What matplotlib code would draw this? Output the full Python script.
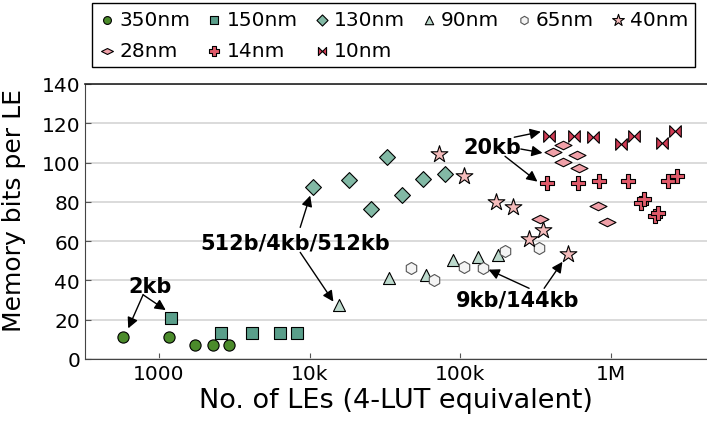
import matplotlib
matplotlib.use("Agg")
import matplotlib.pyplot as plt
from matplotlib.path import Path
import numpy as np

plt.rcParams["font.family"] = "DejaVu Sans"

# process nodes: LEs (4-LUT equivalent) and memory bits per LE
x350 = [580, 1160, 1730, 2300, 2910]
y350 = [11.0, 11.0, 7.3, 7.3, 7.3]

x150 = [1200, 2575, 4170, 6400, 8280]
y150 = [20.7, 13.1, 13.0, 13.0, 13.0]

x130 = [10500, 18400, 25600, 32400, 41100, 56900, 78700]
y130 = [87.7, 91.1, 76.4, 102.9, 83.5, 91.6, 94.4]

x90 = [15600, 33500, 59300, 89900, 131600, 176600]
y90 = [27.7, 41.1, 42.9, 50.4, 51.8, 53.1]

x65 = [47300, 67300, 106000, 142000, 198000, 333000]
y65 = [46.3, 40.2, 46.7, 46.3, 55.0, 56.4]

x40 = [71800, 105200, 173000, 224000, 286000, 351000, 519000]
y40 = [104.5, 93.2, 79.8, 77.6, 61.1, 65.7, 53.5]

x28 = [337000, 415000, 483000, 483000, 593000, 614000, 824000, 941000]
y28 = [71.3, 105.2, 109.0, 100.5, 103.9, 97.1, 77.7, 69.6]

x14 = [374000, 604000, 833000, 1300000, 1570000, 1660000, 1950000, 2050000, 2380000, 2720000]
y14 = [89.4, 89.6, 90.4, 90.8, 79.4, 81.5, 72.6, 74.2, 90.4, 93.2]

x10 = [388000, 569000, 757000, 1160000, 1420000, 2170000, 2640000]
y10 = [113.4, 113.7, 112.9, 109.5, 113.7, 109.8, 116.3]

xticks = [1e3, 1e4, 1e5, 1e6]
xticklabels = ["1000", "10k", "100k", "1M"]

bowtie = Path([(-1, 1), (-1, -1), (1, 1), (1, -1), (-1, 1)],
              [Path.MOVETO, Path.LINETO, Path.LINETO, Path.LINETO, Path.CLOSEPOLY])
flat_diamond = Path([(-1, 0), (0, 0.5), (1, 0), (0, -0.5), (-1, 0)],
                    [Path.MOVETO, Path.LINETO, Path.LINETO, Path.LINETO, Path.CLOSEPOLY])

series = [
    ("350nm", x350, y350, "o", "#4b8b2b", 65),
    ("150nm", x150, y150, "s", "#5a9e8a", 70),
    ("130nm", x130, y130, "D", "#82b9a5", 65),
    ("90nm", x90, y90, "^", "#bcd9cc", 75),
    ("65nm", x65, y65, "h", "#f4f4f4", 75),
    ("40nm", x40, y40, "*", "#f5bcbc", 160),
    ("28nm", x28, y28, flat_diamond, "#f0a0a8", 150),
    ("14nm", x14, y14, "P", "#e05a6a", 110),
    ("10nm", x10, y10, bowtie, "#d23c55", 70),
]

fig = plt.figure(figsize=(7.07, 4.27), dpi=100)
ax = fig.add_axes([85 / 707, 67 / 427, 1 - 85 / 707, 275 / 427])

handles = {}
for name, xs, ys, mk, col, s in series:
    edge = "#555555" if name == "65nm" else "black"
    h = ax.scatter(xs, ys, marker=mk, s=s, c=col, edgecolors=edge,
                   linewidths=0.8, zorder=3, label=name)
    handles[name] = h

ax.set_xscale("log")
ax.set_xlim(324, 4.33e6)
ax.set_ylim(0, 140)
ax.set_xticks(xticks)
ax.set_xticklabels(xticklabels)
ax.xaxis.set_minor_locator(matplotlib.ticker.NullLocator())
ax.set_yticks(range(0, 141, 20))
ax.tick_params(direction="in", length=4, labelsize=14.5, color="#555555")
ax.grid(axis="y", color="#d4d4d4", linewidth=1.2, zorder=0)
ax.set_axisbelow(True)
ax.spines["right"].set_visible(False)
for sp in ["left", "bottom"]:
    ax.spines[sp].set_color("#444444")
ax.spines["top"].set_color("#222222")
ax.spines["top"].set_linewidth(1.2)

ax.set_xlabel("No. of LEs (4-LUT equivalent)", fontsize=19.5, labelpad=3)
ax.set_ylabel("Memory bits per LE", fontsize=18)
ax.yaxis.set_label_coords(-0.095, 0.545)

# annotations
bold = dict(fontsize=15, fontweight="bold", ha="center", va="center", zorder=5)
arrow = dict(arrowstyle="-|>", color="black", lw=1.0, mutation_scale=16,
             shrinkA=0, shrinkB=0)

ax.text(881, 37.3, "2kb", **bold)
ax.annotate("", xy=(627, 15.6), xytext=(787, 32.7), arrowprops=arrow)
ax.annotate("", xy=(1112, 24.9), xytext=(787, 32.7), arrowprops=arrow)

ax.text(8040, 59.4, "512b/4kb/512kb", **bold)
ax.annotate("", xy=(10100, 83.2), xytext=(8670, 67), arrowprops=arrow)
ax.annotate("", xy=(14400, 29.2), xytext=(8670, 54.3), arrowprops=arrow)

ax.text(240000, 30.2, "9kb/144kb", **bold)
ax.annotate("", xy=(154000, 45.5), xytext=(286000, 36), arrowprops=arrow)
ax.annotate("", xy=(476000, 49.5), xytext=(360000, 36), arrowprops=arrow)

ax.text(164000, 108.1, "20kb", **bold)
ax.annotate("", xy=(342000, 115.7), xytext=(228000, 112.9), arrowprops=arrow)
ax.annotate("", xy=(351000, 104.9), xytext=(252000, 106.9), arrowprops=arrow)
ax.annotate("", xy=(325000, 90.3), xytext=(198000, 103.2), arrowprops=arrow)

order = ["350nm", "28nm", "150nm", "14nm", "130nm", "10nm", "90nm", "65nm", "40nm"]
leg = fig.legend([handles[n] for n in order], order, ncol=6, loc="upper left",
                 bbox_to_anchor=(92 / 707, 1 - 4 / 427), borderaxespad=0,
                 fontsize=14.5, markerscale=0.7, handletextpad=0.2,
                 columnspacing=0.8, handlelength=0.8, borderpad=0.35,
                 labelspacing=0.6, fancybox=False, framealpha=1)
leg.get_frame().set_edgecolor("black")
leg.get_frame().set_linewidth(1.0)

fig.savefig("out.png", dpi=100)
